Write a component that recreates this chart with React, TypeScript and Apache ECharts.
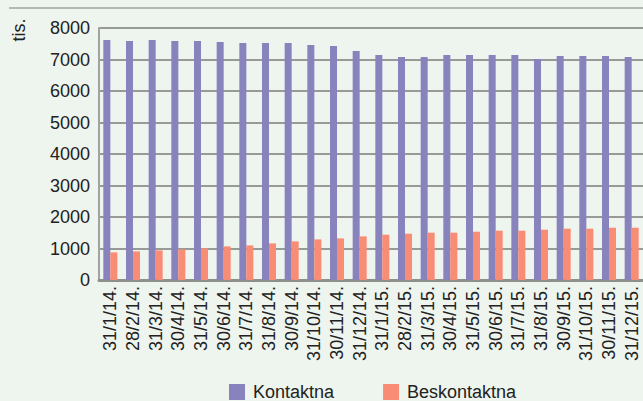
import React, { useEffect, useRef } from "react";
import * as echarts from "echarts";

const categories = [
  "31/1/14.", "28/2/14.", "31/3/14.", "30/4/14.", "31/5/14.", "30/6/14.",
  "31/7/14.", "31/8/14.", "30/9/14.", "31/10/14.", "30/11/14.", "31/12/14.",
  "31/1/15.", "28/2/15.", "31/3/15.", "30/4/15.", "31/5/15.", "30/6/15.",
  "31/7/15.", "31/8/15.", "30/9/15.", "31/10/15.", "30/11/15.", "31/12/15.",
];
const kontaktna = [
  7620, 7586, 7620, 7586, 7586, 7554, 7522, 7522, 7522, 7459, 7427, 7268,
  7140, 7076, 7076, 7140, 7140, 7140, 7140, 7013, 7108, 7108, 7108, 7076,
];
const beskontaktna = [
  876, 908, 940, 971, 1003, 1067, 1098, 1162, 1225, 1289, 1320, 1384,
  1438, 1470, 1502, 1502, 1533, 1565, 1565, 1597, 1629, 1629, 1660, 1660,
];
const yTicks = { min: 0, max: 8000, interval: 1000 };
const unitLabel = "tis.";
const seriesNames = ["Kontaktna", "Beskontaktna"];

const FONT = "'Liberation Sans', Arial, Helvetica, sans-serif";

export default function App() {
  const ref = useRef<HTMLDivElement>(null);
  useEffect(() => {
    if (!ref.current) return;
    const chart = echarts.init(ref.current, undefined, { renderer: "svg" });
    chart.setOption({
      animation: false,
      backgroundColor: "#eef4ee",
      textStyle: { fontFamily: FONT },
      grid: { left: 99, right: 0, top: 28, bottom: 121, containLabel: false },
      graphic: [
        {
          type: "line",
          shape: { x1: 9, y1: 8, x2: 643, y2: 8 },
          style: { stroke: "#b4b8b4", lineWidth: 2 },
        },
        {
          type: "text",
          x: 19,
          y: 30,
          rotation: Math.PI / 2,
          style: {
            text: unitLabel,
            fill: "#222",
            font: `18px ${FONT}`,
            align: "center",
            verticalAlign: "middle",
          },
        },
      ],
      legend: {
        left: 229,
        top: 383,
        padding: 0,
        itemWidth: 16,
        itemHeight: 16,
        itemGap: 49,
        icon: "rect",
        data: seriesNames,
        textStyle: {
          fontSize: 18,
          lineHeight: 18,
          color: "#222",
          fontFamily: FONT,
          padding: [0, 0, 0, 3],
        },
      },
      xAxis: {
        type: "category",
        data: categories,
        axisLine: { lineStyle: { color: "#8e908e", width: 3 } },
        axisTick: { show: false },
        axisLabel: {
          rotate: 90,
          interval: 0,
          fontSize: 18,
          color: "#222",
          margin: 6,
          fontFamily: FONT,
        },
      },
      yAxis: {
        type: "value",
        min: yTicks.min,
        max: yTicks.max,
        interval: yTicks.interval,
        axisLine: { show: true, lineStyle: { color: "#a0a3a0", width: 2 } },
        axisTick: { show: false },
        axisLabel: {
          fontSize: 18,
          color: "#222",
          margin: 9,
          fontFamily: FONT,
          formatter: (v: number) => String(v),
        },
        splitLine: { lineStyle: { color: "#979a97", width: 2 } },
      },
      series: [
        {
          name: seriesNames[0],
          type: "bar",
          data: kontaktna,
          barWidth: 7,
          barGap: "0%",
          itemStyle: { color: "#8882bd" },
        },
        {
          name: seriesNames[1],
          type: "bar",
          data: beskontaktna,
          barWidth: 7,
          itemStyle: { color: "#f88c74" },
        },
      ],
    });
    return () => chart.dispose();
  }, []);
  return <div ref={ref} style={{ width: 643, height: 401, position: "absolute", left: 0, top: 0 }} />;
}
